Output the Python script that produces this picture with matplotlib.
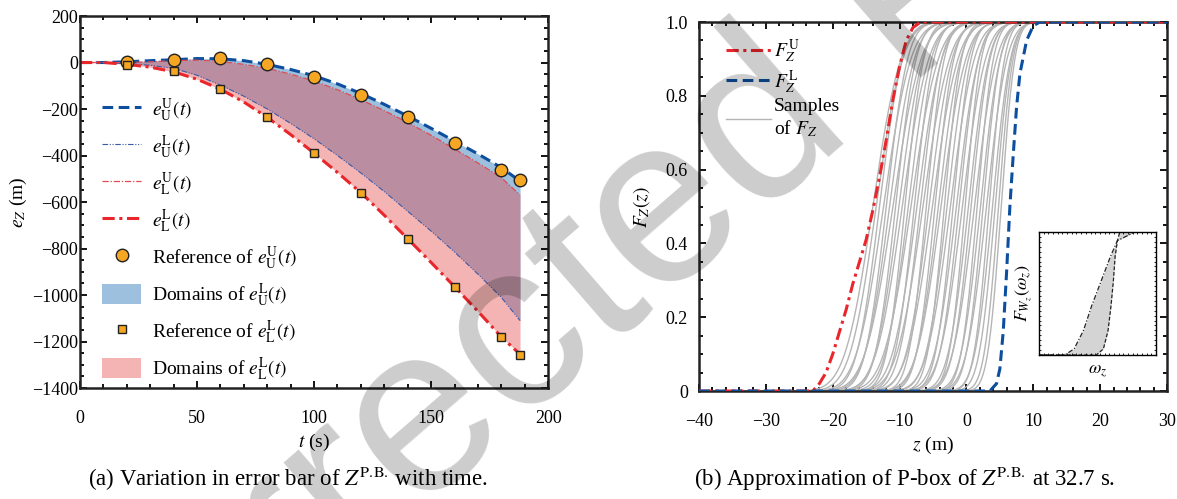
import math
import numpy as np
import matplotlib
matplotlib.use("Agg")
import matplotlib.pyplot as plt
from matplotlib.ticker import MultipleLocator
from matplotlib.patches import Patch
from matplotlib.lines import Line2D

plt.rcParams['font.family'] = 'serif'
plt.rcParams['font.serif'] = ['Liberation Serif', 'DejaVu Serif']
plt.rcParams['mathtext.fontset'] = 'stix'

# (a) bounds of the error bar of Z over time
t = [0, 10, 20, 30, 40, 50, 60, 70, 80, 90, 100, 110, 120, 130, 140, 150, 160, 170, 180, 188]
e_UU = [0, 0, 3, 8, 12, 17, 16, 8, -8, -30, -57, -92, -133, -180, -230, -283, -338, -393, -452, -510]
e_UL = [0, 0, -4, -12, -25, -55, -97, -145, -200, -262, -328, -400, -475, -555, -640, -725, -815, -910, -1010, -1110]
e_LU = [0, 0, 0, 3, 8, 10, 5, -8, -25, -50, -80, -117, -160, -207, -258, -313, -372, -432, -495, -570]
e_LL = [0, 0, -8, -20, -40, -72, -115, -170, -236, -310, -390, -473, -560, -657, -758, -860, -964, -1070, -1180, -1255]
t_ref = [20, 40, 60, 80, 100, 120, 140, 160, 180, 188]
ref_UU = [2, 11, 18, -6, -61, -140, -236, -345, -462, -505]
ref_LL = [-10, -38, -115, -236, -388, -563, -758, -964, -1182, -1258]

# (b) P-box bounds and sampled CDFs at 32.7 s
z_FU = [-40, -23, -22, -21, -20, -19, -18, -17, -16, -15, -14, -13, -12, -11, -10, -9, -8, -7, -6.5, 30]
F_FU = [0, 0, 0.02, 0.05, 0.10, 0.16, 0.22, 0.29, 0.35, 0.41, 0.49, 0.58, 0.68, 0.79, 0.88, 0.95, 0.985, 0.998, 1.0, 1.0]
z_FL = [-40, 3.5, 4.5, 5.0, 5.5, 6.0, 6.5, 7.0, 7.5, 8.0, 9.0, 10.0, 11.0, 30]
F_FL = [0, 0, 0.02, 0.06, 0.16, 0.32, 0.50, 0.64, 0.77, 0.86, 0.95, 0.99, 1.0, 1.0]
sample_mu = [-14.0, -13.5, -13.0, -12.4, -12.0, -11.5, -11.0, -10.6, -10.1, -9.6, -9.2,
             -8.7, -8.3, -7.8, -7.4, -6.9, -6.5, -6.0, -5.6, -5.1, -4.7, -4.2, -3.8,
             -3.3, -2.9, -2.4, -2.0, -1.5, -1.1, -0.6, -0.2, 0.3, 0.7, 1.2, 1.6, 2.1,
             2.5, 3.0, 3.4, 3.9, 4.3, 4.8, 5.2]
sample_sigma = [3.3, 3.1, 2.7, 3.2, 2.5, 2.9, 3.3, 2.4, 2.8, 3.1, 2.2, 2.7, 3.2, 2.3,
                2.9, 2.5, 3.1, 2.1, 2.7, 3.0, 2.2, 2.6, 2.9, 2.0, 2.5, 2.8, 2.1, 2.6,
                2.3, 2.7, 1.9, 2.4, 2.2, 2.6, 1.9, 2.3, 2.0, 2.4, 1.8, 2.1, 1.9, 1.7, 1.6]

# inset: sketch of the bounds of F_Wz
w_F = [0, 0.05, 0.2, 0.4, 0.6, 0.8, 0.93, 1.0]
w_upper = [0.22, 0.30, 0.38, 0.45, 0.53, 0.61, 0.67, 0.82]
w_lower = [0.49, 0.55, 0.59, 0.615, 0.635, 0.65, 0.67, 0.69]

blue = '#0d4f9e'
red = '#e8262b'
orange = '#f5a623'
pink = (232 / 255, 68 / 255, 68 / 255)
blue_fill = '#9cc0de'


def style_axes(ax, xmaj, xmin, ymaj, ymin, ypad):
    ax.xaxis.set_major_locator(MultipleLocator(xmaj))
    ax.xaxis.set_minor_locator(MultipleLocator(xmin))
    ax.yaxis.set_major_locator(MultipleLocator(ymaj))
    ax.yaxis.set_minor_locator(MultipleLocator(ymin))
    ax.tick_params(which='both', direction='in', top=True, right=True, labelsize=13, width=1.3)
    ax.tick_params(which='major', length=5)
    ax.tick_params(which='minor', length=3)
    ax.tick_params(axis='x', pad=16)
    ax.tick_params(axis='y', pad=ypad)
    for s in ax.spines.values():
        s.set_linewidth(1.8)
        s.set_color('#222222')


fig = plt.figure(figsize=(11.77, 4.99), dpi=100)
ax1 = fig.add_axes([0.068, 0.2224, 0.3977, 0.7455])
ax2 = fig.add_axes([0.5939, 0.2164, 0.3976, 0.7395])

# ---- (a) ----
ax1.fill_between(t, e_UU, e_UL, color=blue_fill, lw=0)
ax1.fill_between(t, e_LU, e_LL, color=pink, alpha=0.4, lw=0)
l1, = ax1.plot(t, e_UU, color=blue, lw=2.2, dashes=(3.5, 1.8))
l2, = ax1.plot(t, e_UL, color='#3b5aa8', lw=0.8, dashes=(5, 1.5, 1, 1.5, 1, 1.5))
l3, = ax1.plot(t, e_LU, color='#e04a50', lw=0.9, dashes=(5, 1.5, 1, 1.5))
l4, = ax1.plot(t, e_LL, color=red, lw=2.2, dashes=(4, 1.5, 1, 1.5))
ax1.plot(t_ref, ref_UU, 'o', ms=9, mfc=orange, mec='#222222', mew=1.0, zorder=5)
ax1.plot(t_ref, ref_LL, 's', ms=6, mfc=orange, mec='#222222', mew=1.0, zorder=5)

ax1.set_xlim(0, 200)
ax1.set_ylim(-1400, 200)
style_axes(ax1, 50, 10, 200, 50, 1.5)
ax1.set_xlabel(r'$t$ (s)', fontsize=14, labelpad=3)
ax1.set_ylabel(r'$e_Z$ (m)', fontsize=14, labelpad=2)

handles = [l1, l2, l3, l4,
           Line2D([], [], ls='none', marker='o', ms=9, mfc=orange, mec='#222222'),
           Patch(facecolor=blue_fill),
           Line2D([], [], ls='none', marker='s', ms=6, mfc=orange, mec='#222222'),
           Patch(facecolor=pink, alpha=0.4)]
labels = [r'$e_{\mathrm{U}}^{\mathrm{U}}(t)$', r'$e_{\mathrm{U}}^{\mathrm{L}}(t)$',
          r'$e_{\mathrm{L}}^{\mathrm{U}}(t)$', r'$e_{\mathrm{L}}^{\mathrm{L}}(t)$',
          r'Reference of $e_{\mathrm{U}}^{\mathrm{U}}(t)$', r'Domains of $e_{\mathrm{U}}^{\mathrm{L}}(t)$',
          r'Reference of $e_{\mathrm{L}}^{\mathrm{L}}(t)$', r'Domains of $e_{\mathrm{L}}^{\mathrm{L}}(t)$']
ax1.legend(handles, labels, loc='upper left', bbox_to_anchor=(0.01, 0.832), frameon=False,
           fontsize=14, handlelength=2.0, handleheight=1.2, labelspacing=0.49, handletextpad=0.55)

# ---- (b) ----
zz = np.linspace(-40, 30, 800)
for mu, sg in zip(sample_mu, sample_sigma):
    cdf = [0.5 * (1 + math.erf((v - mu) / (sg * math.sqrt(2)))) for v in zz]
    ax2.plot(zz, cdf, color='#b5b5b5', lw=1.0, zorder=2)
ax2.plot(z_FU, F_FU, color=red, lw=2.2, dashes=(4, 1.5, 1, 1.5), zorder=4, label=r'$F_Z^{\mathrm{U}}$')
ax2.plot(z_FL, F_FL, color=blue, lw=2.2, dashes=(3.5, 1.8), zorder=4, label=r'$F_Z^{\mathrm{L}}$')
ax2.plot([], [], color='#b5b5b5', lw=1.0, label='Samples\nof $F_Z$')
ax2.set_xlim(-40, 30)
ax2.set_ylim(0, 1)
style_axes(ax2, 10, 2, 0.2, 0.05, 8)
ax2.set_yticks([0, 0.2, 0.4, 0.6, 0.8, 1.0], ['0', '0.2', '0.4', '0.6', '0.8', '1.0'])
ax2.set_xlabel(r'$z$ (m)', fontsize=14, labelpad=3)
ax2.set_ylabel(r'$F_Z(z)$', fontsize=14, labelpad=10)
ax2.legend(loc='upper left', bbox_to_anchor=(0.02, 1.005), frameon=False, fontsize=14,
           handlelength=2.3, labelspacing=0.15, handletextpad=0.15)

# inset
axi = fig.add_axes([0.8828, 0.2886, 0.0994, 0.2465])
axi.fill_betweenx(w_F, w_upper, w_lower, color='#d4d4d4', lw=0)
axi.plot([0] + w_upper + [1], [0] + w_F + [1], color='#222222', lw=0.9, dashes=(4, 1.5, 1, 1.5))
axi.plot([0] + w_lower + [1], [0] + w_F + [1], color='#222222', lw=0.9, dashes=(3, 1.5))
axi.set_xlim(0, 1)
axi.set_ylim(0, 1)
axi.xaxis.set_major_locator(MultipleLocator(0.04))
axi.yaxis.set_major_locator(MultipleLocator(0.04))
axi.tick_params(which='both', direction='in', top=True, right=True, length=1.5, width=0.6,
                labelbottom=False, labelleft=False)
for s in axi.spines.values():
    s.set_linewidth(1.0)
axi.set_xlabel(r'$\omega_z$', fontsize=13, labelpad=6)
axi.set_ylabel(r'$F_{W_z}(\omega_z)$', fontsize=13, labelpad=4)

fig.text(288 / 1177, 1 - 479 / 499, r'(a) Variation in error bar of $Z^{\mathrm{P.\!B.\!}}$ with time.',
         ha='center', va='center', fontsize=16.5)
fig.text(905 / 1177, 1 - 479 / 499, r'(b) Approximation of P-box of $Z^{\mathrm{P.\!B.\!}}$ at 32.7 s.',
         ha='center', va='center', fontsize=16.5)

# proof watermark over both panels
fig.text(660 / 1177, 1 - 222 / 499, 'Corrected Proof', rotation=41, fontsize=172,
         family='Liberation Sans', color='black', alpha=0.2, ha='center', va='center',
         rotation_mode='anchor', zorder=10)

fig.savefig('out.png', dpi=100)
